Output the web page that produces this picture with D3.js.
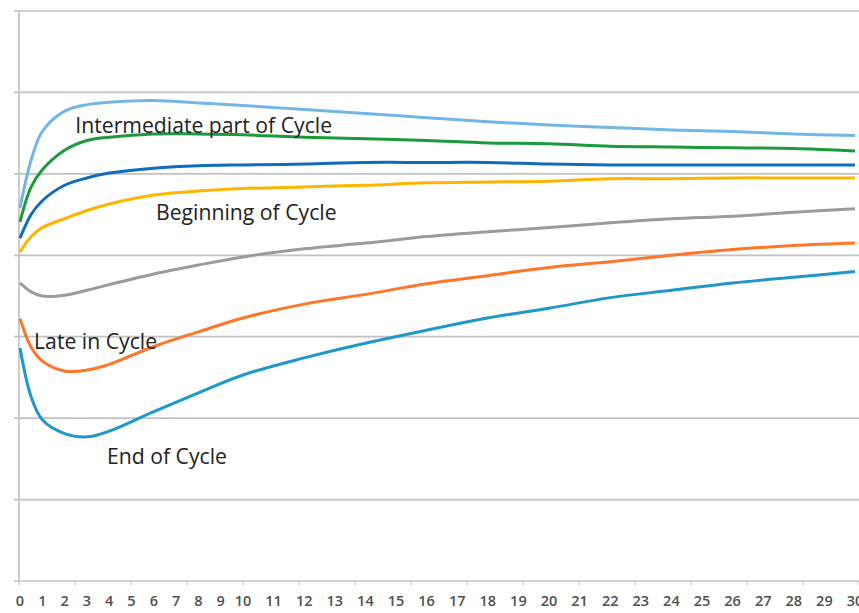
<!DOCTYPE html>
<html>
<head>
<meta charset="utf-8">
<script src="https://cdn.jsdelivr.net/npm/d3@7"></script>
<style>
  html, body { margin: 0; padding: 0; background: #fff; }
  svg { display: block; font-family: "Open Sans", "Liberation Sans", sans-serif; }
  .grid line { stroke: #c2c2c2; stroke-width: 1.7; }
  .xlab { fill: #505050; font-size: 14.5px; font-weight: 600; }
  .curve-label { fill: #222; font-size: 21.2px; }
</style>
</head>
<body>
<svg id="chart" width="859" height="613"></svg>
<script>
// x positions (label units), y in grid units (0 = bottom gridline)
let xs = [0, 0.5, 1, 2, 3, 4, 6, 8, 10, 12, 14, 16, 18, 20, 22, 24, 26, 28, 30];

let intermediate = [4.58, 5.17, 5.52, 5.77, 5.85, 5.88, 5.90, 5.87, 5.84, 5.79, 5.74, 5.69, 5.64, 5.60, 5.57, 5.54, 5.52, 5.49, 5.47];
let greenSeries  = [4.41, 4.84, 5.05, 5.29, 5.41, 5.45, 5.49, 5.49, 5.48, 5.45, 5.43, 5.41, 5.38, 5.37, 5.34, 5.33, 5.32, 5.31, 5.28];
let blueSeries   = [4.21, 4.50, 4.67, 4.86, 4.95, 5.01, 5.07, 5.10, 5.11, 5.12, 5.14, 5.14, 5.14, 5.12, 5.11, 5.11, 5.11, 5.11, 5.11];
let beginning    = [4.04, 4.23, 4.34, 4.45, 4.55, 4.63, 4.74, 4.79, 4.82, 4.84, 4.86, 4.89, 4.90, 4.91, 4.94, 4.94, 4.95, 4.95, 4.95];
let graySeries   = [3.66, 3.55, 3.50, 3.51, 3.57, 3.64, 3.77, 3.88, 3.98, 4.08, 4.15, 4.23, 4.29, 4.34, 4.40, 4.45, 4.48, 4.53, 4.57];
let lateInCycle  = [3.22, 2.87, 2.70, 2.58, 2.59, 2.66, 2.88, 3.06, 3.23, 3.40, 3.52, 3.65, 3.75, 3.85, 3.92, 4.00, 4.07, 4.12, 4.15];
let endOfCycle   = [2.86, 2.26, 1.98, 1.81, 1.77, 1.84, 2.08, 2.31, 2.53, 2.74, 2.92, 3.08, 3.23, 3.35, 3.48, 3.57, 3.66, 3.73, 3.80];

let xTickLabels = [0, 1, 2, 3, 4, 5, 6, 7, 8, 9, 10, 11, 12, 13, 14, 15, 16, 17, 18, 19, 20,
                   21, 22, 23, 24, 25, 26, 27, 28, 29, 30];
let yGrid = [0, 1, 2, 3, 4, 5, 6, 7];

let series = [
  { name: "intermediate", values: intermediate, color: "#72b6e6" },
  { name: "green", values: greenSeries, color: "#1a9a3a" },
  { name: "blue", values: blueSeries, color: "#0f6dbd" },
  { name: "beginning", values: beginning, color: "#ffb400" },
  { name: "gray", values: graySeries, color: "#9b9b9b" },
  { name: "late", values: lateInCycle, color: "#ff7628" },
  { name: "end", values: endOfCycle, color: "#1f97cd" }
];

// curve labels: [text, x (label units), y (grid units)]
let curveLabels = [
  ["Intermediate part of Cycle", 2.48, 5.50],
  ["Beginning of Cycle", 6.1, 4.43],
  ["Late in Cycle", 0.63, 2.85],
  ["End of Cycle", 3.9, 1.44]
];

let svg = d3.select("#chart");
let W = 859, H = 613;
let plotLeft = 19, plotTop = 11, plotBottom = 581;

// label spacing on the original axis is uneven (single digits packed tighter)
let x = d3.scaleLinear().domain([0, 10, 30]).range([20, 243, 855]);
let y = d3.scaleLinear().domain([0, 7]).range([plotBottom, plotTop]);
let tickX = d3.scaleLinear().domain([0, 15]).range([plotLeft, W]);

// horizontal gridlines + short ticks on the left
let grid = svg.append("g").attr("class", "grid");
grid.selectAll("line")
  .data(yGrid)
  .enter().append("line")
  .attr("x1", plotLeft - 5)
  .attr("x2", W)
  .attr("y1", d => y(d))
  .attr("y2", d => y(d));

// vertical axis line
svg.append("line")
  .attr("x1", plotLeft).attr("x2", plotLeft)
  .attr("y1", y(7)).attr("y2", y(0))
  .attr("stroke", "#c2c2c2").attr("stroke-width", 1.7);

// little tick marks under the x axis
svg.append("g").selectAll("line")
  .data(d3.range(0, 16))
  .enter().append("line")
  .attr("x1", d => tickX(d)).attr("x2", d => tickX(d))
  .attr("y1", plotBottom).attr("y2", plotBottom + 4)
  .attr("stroke", "#c2c2c2").attr("stroke-width", 1.2);

svg.append("g").selectAll("text")
  .data(xTickLabels)
  .enter().append("text")
  .attr("class", "xlab")
  .attr("x", d => x(d))
  .attr("y", 606)
  .attr("text-anchor", "middle")
  .text(d => d);

let line = d3.line()
  .x((d, i) => x(xs[i]))
  .y(d => y(d))
  .curve(d3.curveCatmullRom.alpha(0.5));

// draw bottom to top so upper curves sit above
series.slice().reverse().forEach(s => {
  svg.append("path")
    .attr("d", line(s.values))
    .attr("fill", "none")
    .attr("stroke", s.color)
    .attr("stroke-width", 3)
    .attr("stroke-linejoin", "round");
});

svg.append("g").selectAll("text")
  .data(curveLabels)
  .enter().append("text")
  .attr("class", "curve-label")
  .attr("x", d => x(d[1]))
  .attr("y", d => y(d[2]))
  .text(d => d[0]);
</script>
</body>
</html>
